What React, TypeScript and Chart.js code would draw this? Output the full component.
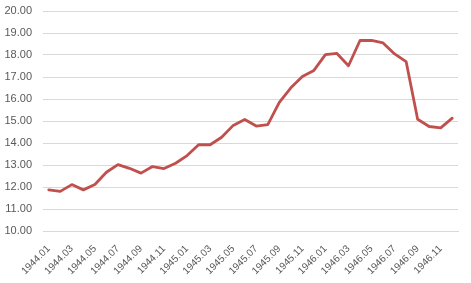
import React, { useEffect, useRef } from "react";
import { Chart, registerables } from "chart.js";

Chart.register(...registerables);

const months: string[] = [
  "1944.01","1944.02","1944.03","1944.04","1944.05","1944.06","1944.07","1944.08","1944.09","1944.10","1944.11","1944.12",
  "1945.01","1945.02","1945.03","1945.04","1945.05","1945.06","1945.07","1945.08","1945.09","1945.10","1945.11","1945.12",
  "1946.01","1946.02","1946.03","1946.04","1946.05","1946.06","1946.07","1946.08","1946.09","1946.10","1946.11","1946.12",
];

const values: number[] = [
  11.87, 11.80, 12.11, 11.87, 12.11, 12.67, 13.02, 12.85, 12.63, 12.93, 12.84, 13.08,
  13.43, 13.92, 13.92, 14.26, 14.80, 15.07, 14.77, 14.84, 15.85, 16.51, 17.02, 17.30,
  18.02, 18.07, 17.51, 18.66, 18.66, 18.55, 18.05, 17.70, 15.08, 14.75, 14.69, 15.13,
];

const yMin = 10;
const yMax = 20;
const yStep = 1;

export default function App() {
  const ref = useRef<HTMLCanvasElement | null>(null);
  useEffect(() => {
    if (!ref.current) return;
    const yFont = { family: "'Liberation Sans', Arial, sans-serif", size: 11 };
    const xFont = { family: "'Liberation Sans', Arial, sans-serif", size: 10 };
    const chart = new Chart(ref.current, {
      type: "line",
      data: {
        labels: months,
        datasets: [
          {
            data: values,
            borderColor: "#C0504D",
            borderWidth: 2.8,
            pointRadius: 0,
            tension: 0,
            borderJoinStyle: "round",
            borderCapStyle: "round",
            fill: false,
          },
        ],
      },
      options: {
        animation: false,
        responsive: false,
        maintainAspectRatio: false,
        layout: { padding: { top: 11, right: 13, bottom: 0, left: 0 } },
        plugins: { legend: { display: false }, tooltip: { enabled: false } },
        scales: {
          x: {
            offset: true,
            grid: { display: false, drawTicks: false },
            border: { display: true, color: "#d9d9d9" },
            ticks: {
              autoSkip: false,
              maxRotation: 45,
              minRotation: 45,
              color: "#595959",
              font: xFont,
              padding: 12,
              callback: (_v: any, i: number) => (i % 2 === 0 ? months[i] : ""),
            },
            afterFit: (s: any) => {
              s.height = 52;
              s.paddingLeft = 0;
              s.paddingRight = 0;
            },
          },
          y: {
            min: yMin,
            max: yMax,
            grid: { color: "#d9d9d9", drawTicks: false },
            border: { display: false },
            ticks: {
              stepSize: yStep,
              color: "#595959",
              font: yFont,
              padding: 11,
              callback: (v: any) => Number(v).toFixed(2),
            },
            afterFit: (s: any) => {
              s.width = 43;
              s.paddingTop = 0;
              s.paddingBottom = 0;
            },
          },
        },
      },
    });
    return () => chart.destroy();
  }, []);
  return (
    <div style={{ position: "absolute", left: 0, top: 0, width: 471, height: 283, background: "#fff" }}>
      <canvas ref={ref} width={471} height={283} style={{ width: 471, height: 283 }} />
    </div>
  );
}
